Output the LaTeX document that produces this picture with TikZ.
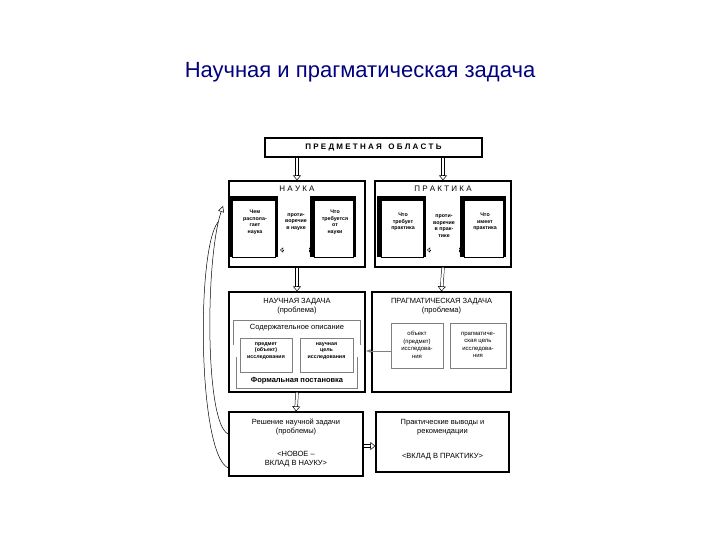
\documentclass[tikz,border=0pt]{standalone}
\usepackage{fontspec}
\setmainfont{Liberation Sans}
\usetikzlibrary{arrows.meta,calc}
\newcommand{\harrow}[2]{%
  \draw[double,double distance=2.2pt,line width=0.5pt,shorten >=4.5pt] #1 -- #2;
  \draw[line width=0.5pt,-{Triangle[open,length=5pt,width=8pt]}] ($#2!5pt!#1$) -- #2;}
\newcommand{\sarrow}[2]{%
  \draw[double,double distance=1.4pt,line width=0.4pt,shorten >=3pt,shorten <=3pt] #1 -- #2;
  \draw[line width=0.4pt,-{Triangle[open,length=3pt,width=5pt]}] ($#2!3pt!#1$) -- #2;
  \draw[line width=0.4pt,-{Triangle[open,length=3pt,width=5pt]}] ($#1!3pt!#2$) -- #1;}
\begin{document}
\begin{tikzpicture}[x=1pt,y=-1pt,
  big/.style={draw,line width=1.3pt},
  thin/.style={draw,gray,line width=0.5pt},
  txt/.style={font=\fontsize{7.5}{9}\selectfont,align=center},
  sm/.style={font=\fontsize{5.3}{6.5}\selectfont\bfseries,align=center},
  smn/.style={font=\fontsize{6}{7.5}\selectfont,align=center}]
\useasboundingbox (0,0) rectangle (720,540);
\node[text=blue!50!black,font=\fontsize{22}{26}\selectfont] (title) at (360,72) {Научная и прагматическая задача};
% top
\node[big,minimum width=217,minimum height=19,font=\fontsize{8}{9}\selectfont\bfseries] (po) at (373.5,147.5) {П Р Е Д М Е Т Н А Я \ \ О Б Л А С Т Ь};
\node[big,minimum width=136,minimum height=86] (nauka) at (297,224) {};
\node[big,minimum width=136,minimum height=86] (prak) at (443,224) {};
\node[font=\fontsize{8}{9}\selectfont] at (297,189) {Н А У К А};
\node[font=\fontsize{8}{9}\selectfont] at (443,189) {П Р А К Т И К А};
% 3D boxes
\foreach \n/\cx/\w/\t in {a/255/46/{Чем\\распола-\\гает\\наука},b/335/42/{Что\\требуется\\от\\науки},c/403/45/{Что\\требует\\практика},d/485/42/{Что\\имеет\\практика}}{
  \fill (\cx-\w/2-4,198-2) rectangle (\cx+\w/2,257);
  \node[draw,fill=white,minimum width=\w-3,minimum height=57,anchor=north west,inner sep=0] at (\cx-\w/2,200) {};
  \node[sm] at (\cx,222) {\t};
}
\coordinate (a1) at (280,250); \coordinate (b1) at (312,250);
\coordinate (c1) at (427,250); \coordinate (d1) at (462,250);
\node[sm] (pn) at (296,222) {проти-\\воречие\\в науке};
\node[sm] (pp) at (444,226) {проти-\\воречие\\в прак-\\тике};
\sarrow{(a1)}{(b1)}
\sarrow{(c1)}{(d1)}
\harrow{(po.south-|nauka)}{(nauka.north)}
\harrow{(po.south-|prak)}{(prak.north)}
% tasks
\node[big,minimum width=136,minimum height=100] (nz) at (297,342) {};
\node[big,minimum width=139,minimum height=100] (pz) at (441.5,342) {};
\node[txt] at (297,306) {НАУЧНАЯ ЗАДАЧА\\(проблема)};
\node[txt] at (441.5,306) {ПРАГМАТИЧЕСКАЯ ЗАДАЧА\\(проблема)};
\harrow{(nauka.south)}{(nz.north)}
\harrow{(prak.south)}{(pz.north)}
\draw[thin] (233,345) -- (233,320) -- (360,320) -- (360,345);
\node[txt] at (297,328) {Содержательное описание};
\draw[thin] (236,357) -- (236,388) -- (357,388) -- (357,357);
\node[txt,font=\fontsize{7.5}{9}\selectfont\bfseries] at (297,381) {Формальная постановка};
\node[thin,minimum width=52,minimum height=34] (n1) at (266,355) {};
\node[thin,minimum width=53,minimum height=34] (n2) at (326.5,355) {};
\node[sm] at (266,351) {предмет\\(объект)\\исследования};
\node[sm] at (326.5,351) {научная\\цель\\исследования};
\node[thin,minimum width=52,minimum height=45] (p1) at (417,345.5) {};
\node[thin,minimum width=56,minimum height=45] (p2) at (478,345.5) {};
\node[smn] at (417,345) {объект\\(предмет)\\исследова-\\ния};
\node[smn] at (478,345) {прагматиче-\\ская цель\\исследова-\\ния};
\draw[gray,line width=0.6pt,-{Latex[length=5pt]}] (p1.west|-0,351) -- (nz.east|-0,351);
% bottom
\node[big,minimum width=134,minimum height=64] (rz) at (296,444) {};
\node[big,minimum width=133,minimum height=60] (pv) at (442.5,442) {};
\node[txt] at (296,427) {Решение научной задачи\\(проблемы)};
\node[txt] at (296,459) {<НОВОЕ –\\ВКЛАД В НАУКУ>};
\node[txt] at (442.5,427) {Практические выводы и\\рекомендации};
\node[txt] at (442.5,457) {<ВКЛАД В ПРАКТИКУ>};
\harrow{(nz.south)}{(rz.north)}
\harrow{(rz.east|-0,446)}{(pv.west|-0,446)}
% feedback curves
\coordinate (tip) at (223,206);
\draw[line width=0.5pt,-{Triangle[open,length=6pt,width=6pt]}] (rz.west|-0,434) .. controls (205,425) and (205,260) .. (tip);
\draw[line width=0.5pt] (rz.west|-0,468) .. controls (198,455) and (196,250) .. (218,222);
\end{tikzpicture}
\end{document}
